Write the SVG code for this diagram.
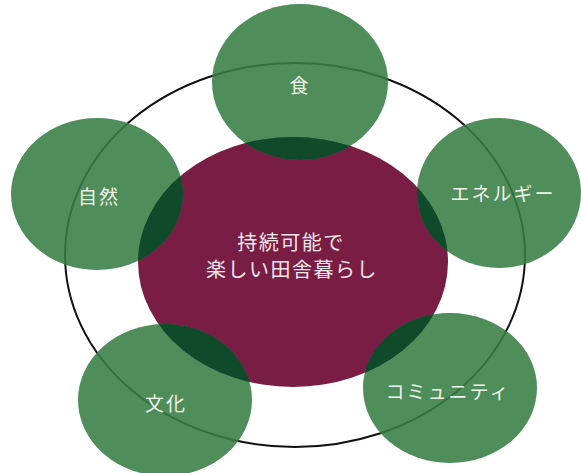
<svg xmlns="http://www.w3.org/2000/svg" width="581" height="473" viewBox="0 0 581 473">
<style>
.g{fill:#377d44;opacity:0.88}
.d{fill:#0f4a2a}
.lbl{font-family:"Noto Sans CJK JP","Noto Sans",sans-serif;font-size:19px;fill:#eef3ea;text-anchor:middle;dominant-baseline:central;letter-spacing:2px}
.ctr{font-family:"Noto Sans CJK JP","Noto Sans",sans-serif;font-size:20px;fill:#f1e6ea;text-anchor:middle;letter-spacing:1.5px}
</style>
<defs>
<clipPath id="mc"><ellipse cx="293" cy="262" rx="155" ry="125"/></clipPath>
</defs>
<rect width="581" height="473" fill="#ffffff"/>
<g id="connectors">
<ellipse cx="295" cy="255" rx="230" ry="192" fill="none" stroke="#111" stroke-width="2"/>
</g>
<g id="center">
<ellipse cx="293" cy="262" rx="155" ry="125" fill="#7a1d45"/>
</g>
<g id="food">
<ellipse class="g" cx="300" cy="82" rx="88" ry="78"/>
<ellipse class="d" cx="300" cy="82" rx="88" ry="78" clip-path="url(#mc)"/>
<text class="lbl" x="300" y="84">食</text>
</g>
<g id="nature">
<ellipse class="g" cx="97" cy="194" rx="86" ry="76"/>
<ellipse class="d" cx="97" cy="194" rx="86" ry="76" clip-path="url(#mc)"/>
<text class="lbl" x="99" y="195">自然</text>
</g>
<g id="energy">
<ellipse class="g" cx="499" cy="193" rx="82" ry="75"/>
<ellipse class="d" cx="499" cy="193" rx="82" ry="75" clip-path="url(#mc)"/>
<text class="lbl" x="503" y="192">エネルギー</text>
</g>
<g id="culture">
<ellipse class="g" cx="165" cy="400" rx="87" ry="76"/>
<ellipse class="d" cx="165" cy="400" rx="87" ry="76" clip-path="url(#mc)"/>
<text class="lbl" x="166" y="402">文化</text>
</g>
<g id="community">
<ellipse class="g" cx="450" cy="388" rx="87" ry="75"/>
<ellipse class="d" cx="450" cy="388" rx="87" ry="75" clip-path="url(#mc)"/>
<text class="lbl" x="448" y="390">コミュニティ</text>
</g>
<g id="center-label">
<text class="ctr" x="291" y="250">持続可能で</text>
<text class="ctr" x="292" y="277">楽しい田舎暮らし</text>
</g>
</svg>
